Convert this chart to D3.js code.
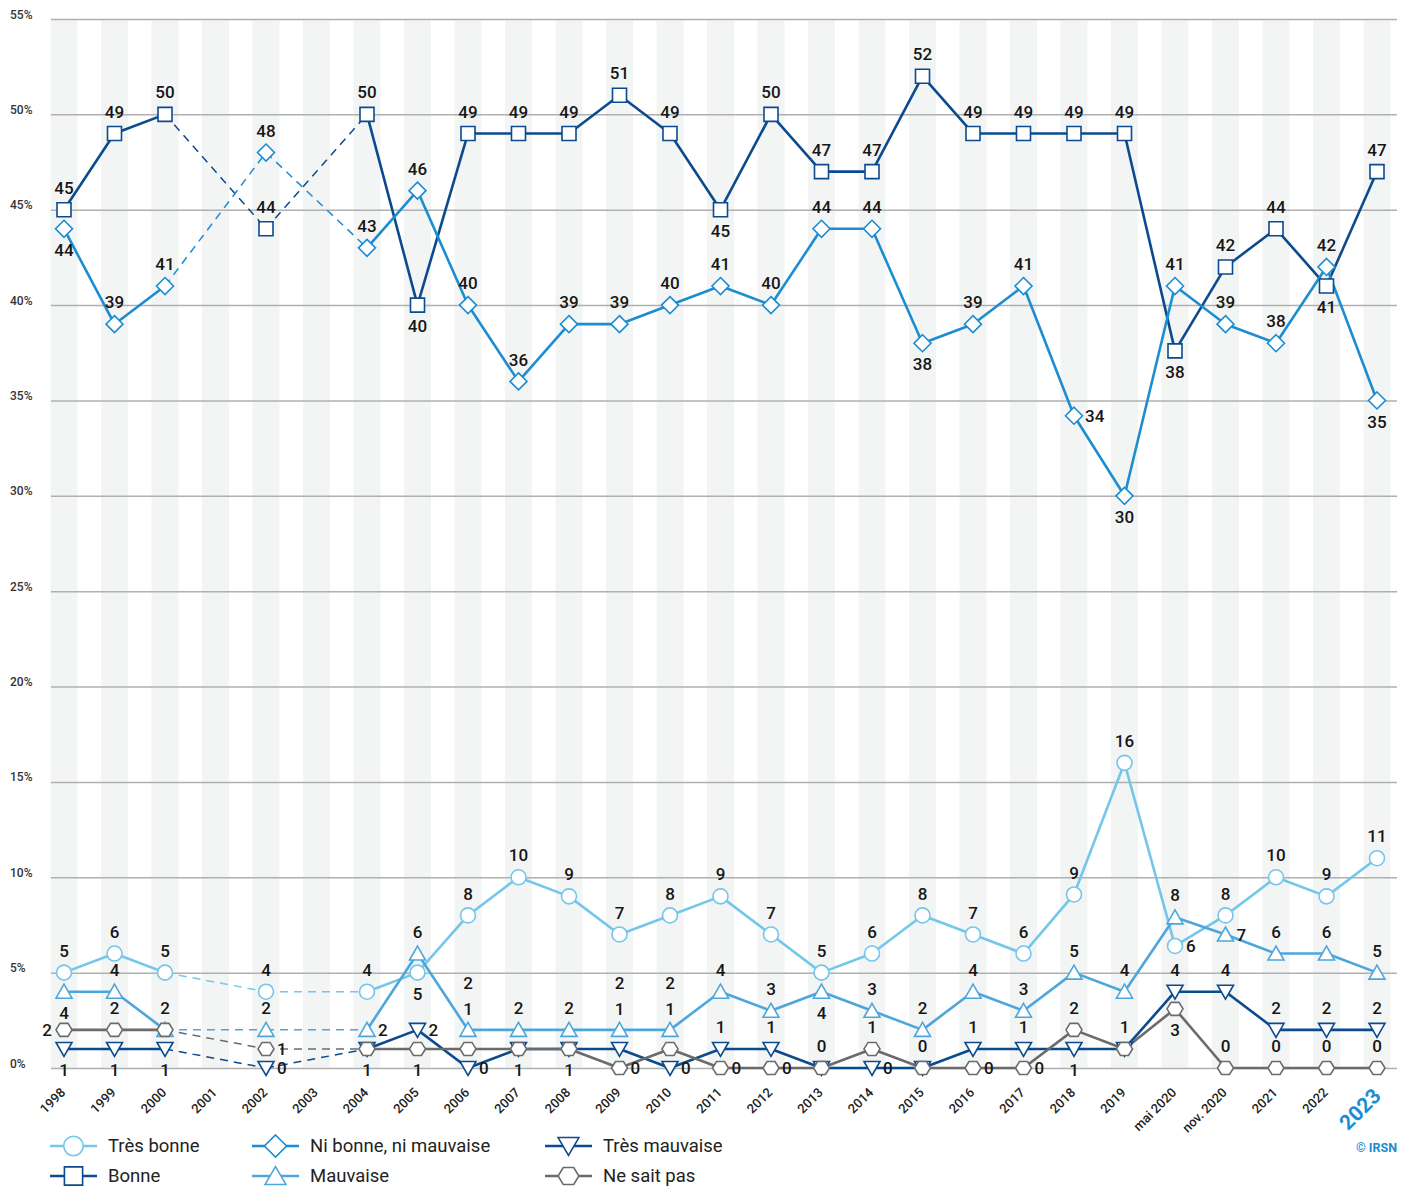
<!DOCTYPE html>
<html><head><meta charset="utf-8">
<script src="https://cdn.jsdelivr.net/npm/d3@7"></script>
<style>body{margin:0;background:#fff;font-family:Roboto,"Noto Sans",sans-serif}</style>
</head><body><svg id="c" width="1407" height="1189"></svg>
<script>
const categories = ["1998","1999","2000","2001","2002","2003","2004","2005","2006","2007","2008","2009","2010","2011","2012","2013","2014","2015","2016","2017","2018","2019","mai 2020","nov. 2020","2021","2022","2023"];
const yTicks = [0,5,10,15,20,25,30,35,40,45,50,55];
const seriesNames = ["Très bonne","Bonne","Ni bonne, ni mauvaise","Mauvaise","Très mauvaise","Ne sait pas"];
const tresBonne   = [5,6,5,null,4,null,4,5,8,10,9,7,8,9,7,5,6,8,7,6,9.1,16,6.4,8,10,9,11];
const bonne       = [45,49,50,null,44,null,50,40,49,49,49,51,49,45,50,47,47,52,49,49,49,49,37.6,42,44,41,47];
const niBonne     = [44,39,41,null,48,null,43,46,40,36,39,39,40,41,40,44,44,38,39,41,34.2,30,41,39,38,42,35];
const mauvaise    = [4,4,2,null,2,null,2,6,2,2,2,2,2,4,3,4,3,2,4,3,5,4,7.9,7,6,6,5];
const tresMauvaise= [1,1,1,null,0,null,1,2,0,1,1,1,0,1,1,0,0,0,1,1,1,1,4,4,2,2,2];
const neSaitPas   = [2,2,2,null,1,null,1,1,1,1,1,0,1,0,0,0,1,0,0,0,2,1,3.1,0,0,0,0];

// label placement codes (layout): a above, b below, r right, l left, A/S stacked above, "" none
const labelPos = {
  "Très bonne":            "a,a,a,,a,,a,b,a,a,a,a,a,a,a,a,a,a,a,a,a,a,r,a,a,a,a",
  "Bonne":                 "a,a,a,,a,,a,b,a,a,a,a,a,b,a,a,a,a,a,a,a,a,b,a,a,b,a",
  "Ni bonne, ni mauvaise": "b,a,a,,a,,a,a,a,a,a,a,a,a,a,a,a,b,a,a,r,b,a,a,a,a,b",
  "Mauvaise":              "b,a,a,,a,,r,a,S,a,a,S,S,a,a,b,a,a,a,a,a,a,a,r,a,a,a",
  "Très mauvaise":         "b,b,b,,r,,b,r,r,b,b,A,r,a,a,a,r,a,a,a,b,a,a,a,a,a,a",
  "Ne sait pas":           "l,a,,,r,,,b,A,,,r,A,r,r,,a,,r,r,a,,b,a,a,a,a"
};

const series = [
  {name:"Très bonne", values:tresBonne, color:"#74c6ea", sym:"circle"},
  {name:"Bonne", values:bonne, color:"#0c4a8e", sym:"square"},
  {name:"Ni bonne, ni mauvaise", values:niBonne, color:"#1b8dd0", sym:"diamond"},
  {name:"Mauvaise", values:mauvaise, color:"#4ca6dc", sym:"up"},
  {name:"Très mauvaise", values:tresMauvaise, color:"#0c4a8e", sym:"down"},
  {name:"Ne sait pas", values:neSaitPas, color:"#6b6b6b", sym:"hex"}
];

const svg = d3.select("#c");
const x = d3.scalePoint(categories, [64, 1377]);
const y = d3.scaleLinear([0,55], [1068, 19]);
const left = 51, right = 1397;

// stripes
svg.append("g").selectAll("rect").data(categories).join("rect")
  .attr("x", d => x(d) - 13.5).attr("width", 27)
  .attr("y", y(55)).attr("height", y(0) - y(55)).attr("fill", "#f3f5f5");

// grid
const yAxis = d3.axisLeft(y).tickValues(yTicks).tickSize(-(right-left)).tickFormat(d => d + "%");
const ga = svg.append("g").attr("transform", `translate(${left},0)`).call(yAxis);
ga.select(".domain").remove();
ga.selectAll(".tick line").attr("stroke", "#b0b0b0").attr("stroke-width", 1.5);
ga.selectAll(".tick text").attr("x", -41).attr("dy", -1).attr("text-anchor", "start")
  .attr("font-size", 12).attr("font-weight", 500).attr("fill", "#333").attr("font-family", "Roboto");

// x labels
const xg = svg.append("g");
categories.forEach((c, i) => {
  const last = i === categories.length - 1;
  xg.append("text").attr("transform", `translate(${x(c) + (last ? 0 : -1)},${last ? 1092 : 1090}) rotate(-45)`)
    .attr("text-anchor", "end").attr("dy", "0.35em")
    .attr("font-size", last ? 21 : 13).attr("font-weight", last ? 700 : 500)
    .attr("fill", last ? "#1b8dd0" : "#222").text(c);
});

function symPath(sym, s) {
  switch (sym) {
    case "circle": return d3.symbol(d3.symbolCircle, Math.PI * (7.5*s) ** 2)();
    case "square": { const h = 7*s; return `M${-h},${-h}H${h}V${h}H${-h}Z`; }
    case "diamond": { const h = 8.5*s; return `M0,${-h}L${h},0L0,${h}L${-h},0Z`; }
    case "up": { const w = 8*s, h = 6.5*s; return `M0,${-h-1}L${w},${h}L${-w},${h}Z`; }
    case "down": { const w = 8*s, h = 6.5*s; return `M0,${h+1}L${w},${-h}L${-w},${-h}Z`; }
    case "hex": { const w = 8*s, h = 6.5*s, q = 4*s; return `M${-w},0L${-q},${-h}L${q},${-h}L${w},0L${q},${h}L${-q},${h}Z`; }
  }
}

const linesG = svg.append("g"), markG = svg.append("g"), labG = svg.append("g");
const line = d3.line().x(d => x(d.c)).y(d => y(d.v));
series.forEach(s => {
  const pts = s.values.map((v, i) => ({c: categories[i], i, v})).filter(d => d.v != null);
  for (let k = 0; k < pts.length - 1; k++) {
    const a = pts[k], b = pts[k+1];
    const gap = b.i - a.i > 1;
    linesG.append("path").attr("d", line([a, b])).attr("fill", "none")
      .attr("stroke", s.color).attr("stroke-width", gap ? 1.5 : 2.6)
      .attr("stroke-dasharray", gap ? "8,6" : null);
  }
});
series.forEach(s => {
  const pts = s.values.map((v, i) => ({c: categories[i], i, v})).filter(d => d.v != null);
  markG.selectAll(null).data(pts).join("path")
    .attr("transform", d => `translate(${x(d.c)},${y(d.v)})`)
    .attr("d", symPath(s.sym, 1)).attr("fill", "#fff").attr("stroke", s.color).attr("stroke-width", 1.6);
  const pos = labelPos[s.name].split(",");
  pts.forEach(d => {
    const p = pos[d.i];
    if (!p) return;
    let dx = 0, dy = 0, anchor = "middle";
    if (p === "a") dy = -22;
    else if (p === "b") dy = 21;
    else if (p === "A") dy = -40;
    else if (p === "S") dy = -47;
    else if (p === "r") { dx = 11; anchor = "start"; }
    else if (p === "l") { dx = -12; anchor = "end"; }
    labG.append("text").attr("x", x(d.c) + dx).attr("y", y(d.v) + dy).attr("dy", "0.36em")
      .attr("text-anchor", anchor).attr("font-size", 17).attr("font-weight", 500).attr("fill", "#161616")
      .text(Math.round(d.v));
  });
});

// legend
const legendCols = [50, 252, 545], legendRows = [1146, 1176];
const lg = svg.append("g");
series.forEach((s, i) => {
  const cx = legendCols[Math.floor(i / 2)], cy = legendRows[i % 2];
  lg.append("line").attr("x1", cx).attr("x2", cx + 47).attr("y1", cy).attr("y2", cy)
    .attr("stroke", s.color).attr("stroke-width", 2.6);
  lg.append("path").attr("transform", `translate(${cx + 23.5},${cy})`).attr("d", symPath(s.sym, 1.3))
    .attr("fill", "#fff").attr("stroke", s.color).attr("stroke-width", 1.6);
  lg.append("text").attr("x", cx + 58).attr("y", cy).attr("dy", "0.35em")
    .attr("font-size", 18.5).attr("fill", "#222").text(s.name);
});
svg.append("text").attr("x", 1397).attr("y", 1148).attr("dy", "0.35em").attr("text-anchor", "end")
  .attr("font-size", 12.5).attr("font-weight", 700).attr("fill", "#1b8dd0").text("© IRSN");
</script></body></html>
